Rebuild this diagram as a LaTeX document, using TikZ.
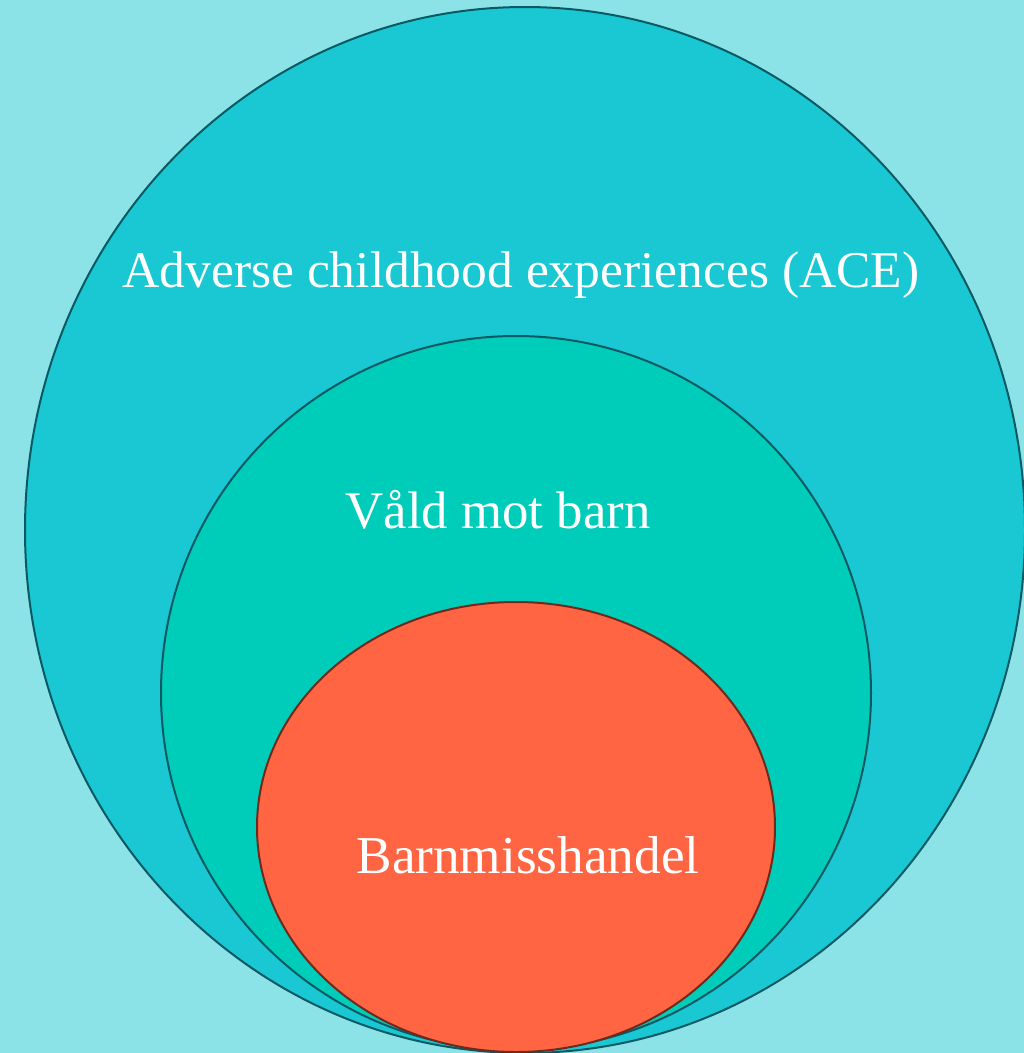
\documentclass[tikz,border=0pt]{standalone}
\usepackage{fontspec}
\setmainfont{Liberation Serif}
\usepackage{graphicx}
\definecolor{bgc}{HTML}{8BE3E8}
\definecolor{outerc}{HTML}{19C8D3}
\definecolor{midc}{HTML}{00CDB9}
\definecolor{innerc}{HTML}{FF6542}
\definecolor{tealline}{HTML}{0B5A63}
\definecolor{redline}{HTML}{6E2A1C}
\tikzset{
  ring/.style={draw=tealline, line width=2pt},
  lbl/.style={text=white, inner sep=0pt, anchor=base, font=\fontsize{46}{50}\selectfont}
}
\begin{document}
\begin{tikzpicture}[x=1pt,y=-1pt]
\useasboundingbox (0,0) rectangle (1024,1053);
\fill[bgc] (0,0) rectangle (1024,1053);
\begin{scope}
\clip (0,0) rectangle (1024,1053);
\draw[ring, fill=outerc] (525,530) ellipse [x radius=500, y radius=523];
\draw[ring, fill=midc] (516,693) ellipse [x radius=355, y radius=357];
\draw[ring, draw=redline, fill=innerc] (516,827) ellipse [x radius=259, y radius=225];
\end{scope}
\node[lbl] (ace) at (521,287) {\resizebox{797pt}{!}{Adverse childhood experiences (ACE)}};
\node[lbl] (vald) at (498,528) {\resizebox{305pt}{!}{Våld mot barn}};
\node[lbl] (barn) at (528,873) {\resizebox{343pt}{!}{Barnmisshandel}};
\end{tikzpicture}
\end{document}
